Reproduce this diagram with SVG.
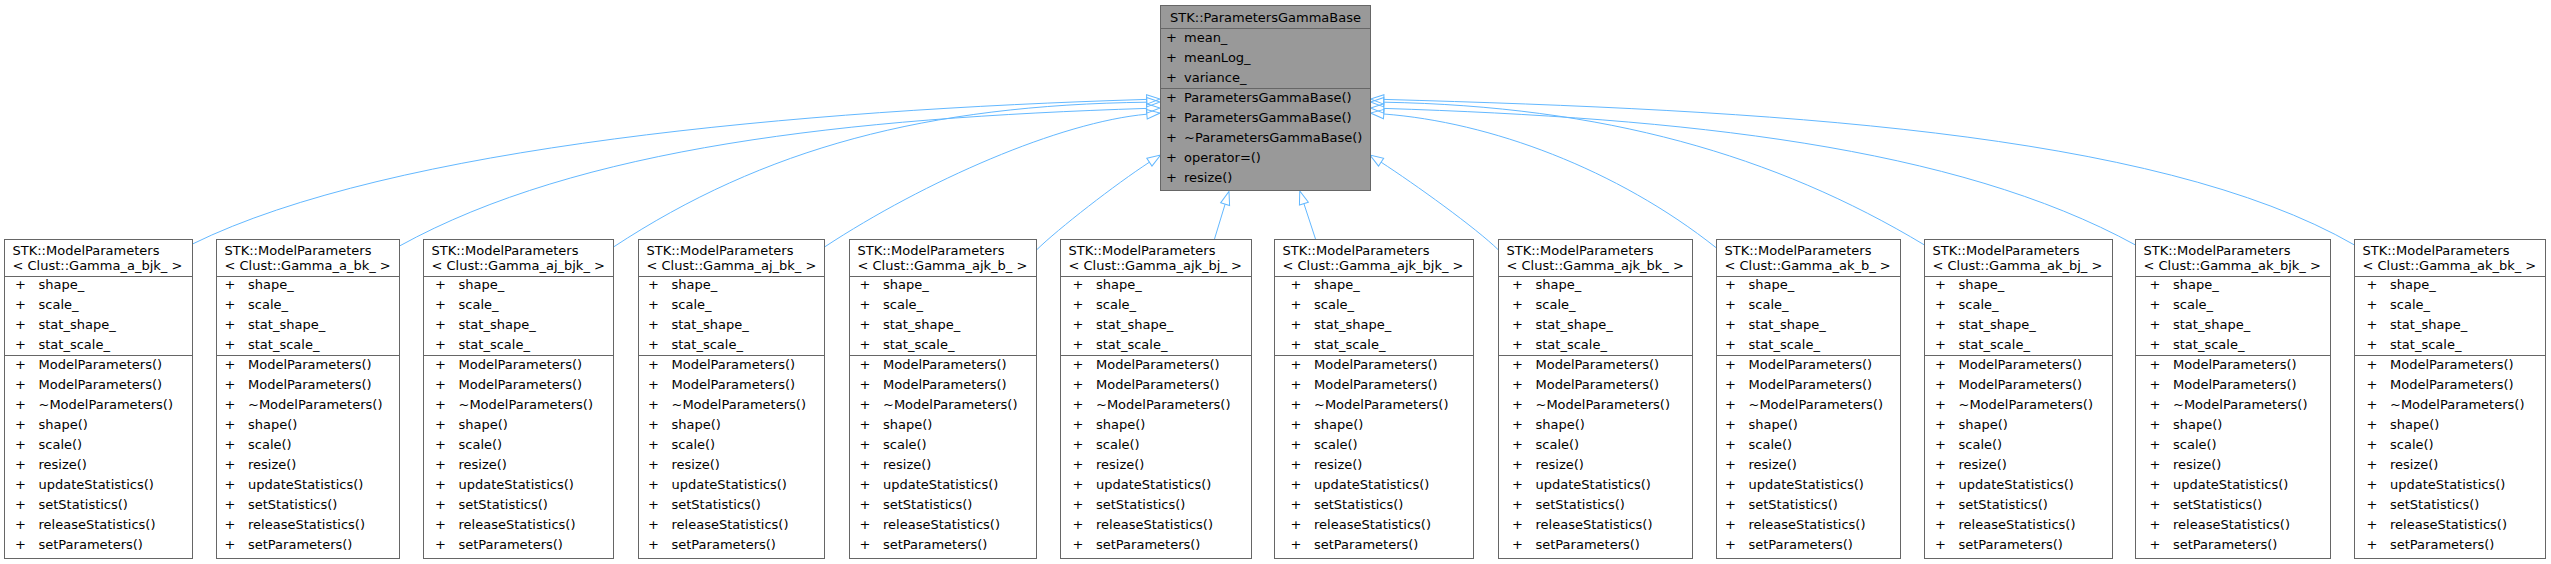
<svg xmlns="http://www.w3.org/2000/svg" width="2551" height="564" viewBox="0 0 2551 564">
<style>
.t{font-family:"DejaVu Sans","Liberation Sans",sans-serif;font-size:13px;fill:#000}
.p{text-anchor:middle}
.box{fill:#fff;stroke:#666;stroke-width:1}
.base{fill:#999;stroke:#666;stroke-width:1}
.sep{fill:none;stroke:#666;stroke-width:1}
.e{fill:none;stroke:#63b8ff;stroke-width:1;marker-end:url(#ah)}
</style>
<defs>
<marker id="ah" markerUnits="userSpaceOnUse" markerWidth="16" markerHeight="12" refX="0" refY="0" orient="auto" overflow="visible">
<path d="M0,-4.7L13.3,0L0,4.7Z" fill="none" stroke="#63b8ff" stroke-width="1"/>
</marker>
</defs>
<rect width="2551" height="564" fill="#fff"/>
<g id="connectors">
<path class="e" d="M192.5,244C392,146 800,110 1146.7,99.4"/>
<path class="e" d="M399.5,246C579,147 847,118 1146.7,108.4"/>
<path class="e" d="M613.5,247C764,148 927,105 1146.7,102.2"/>
<path class="e" d="M824.5,247C925,181 1060,122 1146.8,114.2"/>
<path class="e" d="M1036.5,250C1057.8,229 1115.9,184 1149.4,162.2"/>
<path class="e" d="M1214.5,239L1225.1,204.2"/>
<path class="e" d="M1315.5,239L1303.9,203.6"/>
<path class="e" d="M1498.5,250C1476,228 1414.6,184 1381.1,162.2"/>
<path class="e" d="M1716.5,248C1617,169 1490,122 1383.8,114"/>
<path class="e" d="M1924.5,245C1775,155 1603,106 1383.8,102.2"/>
<path class="e" d="M2135.5,245C1955,146 1683,118 1383.8,108.4"/>
<path class="e" d="M2354.5,245C2155,130 1760,110 1383.8,99.4"/>
</g>
<g id="ParametersGammaBase">
<rect class="base" x="1160.5" y="5.5" width="210" height="185"/>
<path class="sep" d="M1160.5,28.5H1370.5M1160.5,88.5H1370.5"/>
<text class="t p" x="1265.5" y="21.5">STK::ParametersGammaBase</text>
<text class="t p"><tspan x="1171.5" y="42">+</tspan><tspan x="1171.5" y="62">+</tspan><tspan x="1171.5" y="82">+</tspan><tspan x="1171.5" y="102">+</tspan><tspan x="1171.5" y="122">+</tspan><tspan x="1171.5" y="142">+</tspan><tspan x="1171.5" y="162">+</tspan><tspan x="1171.5" y="182">+</tspan></text>
<text class="t"><tspan x="1184" y="42">mean_</tspan><tspan x="1184" y="62">meanLog_</tspan><tspan x="1184" y="82">variance_</tspan><tspan x="1184" y="102">ParametersGammaBase()</tspan><tspan x="1184" y="122">ParametersGammaBase()</tspan><tspan x="1184" y="142">~ParametersGammaBase()</tspan><tspan x="1184" y="162">operator=()</tspan><tspan x="1184" y="182">resize()</tspan></text>
</g>
<g id="node1" transform="translate(4.5,0)">
<rect class="box" x="0" y="239.5" width="188" height="319"/>
<path class="sep" d="M0,276.5H188M0,355.5H188"/>
<text class="t"><tspan x="8" y="255">STK::ModelParameters</tspan><tspan x="8" y="269.5">&lt; Clust::Gamma_a_bjk_ &gt;</tspan></text>
<text class="t p"><tspan x="16" y="289">+</tspan><tspan x="16" y="309">+</tspan><tspan x="16" y="329">+</tspan><tspan x="16" y="349">+</tspan><tspan x="16" y="369">+</tspan><tspan x="16" y="389">+</tspan><tspan x="16" y="409">+</tspan><tspan x="16" y="429">+</tspan><tspan x="16" y="449">+</tspan><tspan x="16" y="469">+</tspan><tspan x="16" y="489">+</tspan><tspan x="16" y="509">+</tspan><tspan x="16" y="529">+</tspan><tspan x="16" y="549">+</tspan></text>
<text class="t"><tspan x="34" y="289">shape_</tspan><tspan x="34" y="309">scale_</tspan><tspan x="34" y="329">stat_shape_</tspan><tspan x="34" y="349">stat_scale_</tspan><tspan x="34" y="369">ModelParameters()</tspan><tspan x="34" y="389">ModelParameters()</tspan><tspan x="34" y="409">~ModelParameters()</tspan><tspan x="34" y="429">shape()</tspan><tspan x="34" y="449">scale()</tspan><tspan x="34" y="469">resize()</tspan><tspan x="34" y="489">updateStatistics()</tspan><tspan x="34" y="509">setStatistics()</tspan><tspan x="34" y="529">releaseStatistics()</tspan><tspan x="34" y="549">setParameters()</tspan></text>
</g>
<g id="node2" transform="translate(216.5,0)">
<rect class="box" x="0" y="239.5" width="183" height="319"/>
<path class="sep" d="M0,276.5H183M0,355.5H183"/>
<text class="t"><tspan x="8" y="255">STK::ModelParameters</tspan><tspan x="8" y="269.5">&lt; Clust::Gamma_a_bk_ &gt;</tspan></text>
<text class="t p"><tspan x="13.5" y="289">+</tspan><tspan x="13.5" y="309">+</tspan><tspan x="13.5" y="329">+</tspan><tspan x="13.5" y="349">+</tspan><tspan x="13.5" y="369">+</tspan><tspan x="13.5" y="389">+</tspan><tspan x="13.5" y="409">+</tspan><tspan x="13.5" y="429">+</tspan><tspan x="13.5" y="449">+</tspan><tspan x="13.5" y="469">+</tspan><tspan x="13.5" y="489">+</tspan><tspan x="13.5" y="509">+</tspan><tspan x="13.5" y="529">+</tspan><tspan x="13.5" y="549">+</tspan></text>
<text class="t"><tspan x="31.5" y="289">shape_</tspan><tspan x="31.5" y="309">scale_</tspan><tspan x="31.5" y="329">stat_shape_</tspan><tspan x="31.5" y="349">stat_scale_</tspan><tspan x="31.5" y="369">ModelParameters()</tspan><tspan x="31.5" y="389">ModelParameters()</tspan><tspan x="31.5" y="409">~ModelParameters()</tspan><tspan x="31.5" y="429">shape()</tspan><tspan x="31.5" y="449">scale()</tspan><tspan x="31.5" y="469">resize()</tspan><tspan x="31.5" y="489">updateStatistics()</tspan><tspan x="31.5" y="509">setStatistics()</tspan><tspan x="31.5" y="529">releaseStatistics()</tspan><tspan x="31.5" y="549">setParameters()</tspan></text>
</g>
<g id="node3" transform="translate(423.5,0)">
<rect class="box" x="0" y="239.5" width="190" height="319"/>
<path class="sep" d="M0,276.5H190M0,355.5H190"/>
<text class="t"><tspan x="8" y="255">STK::ModelParameters</tspan><tspan x="8" y="269.5">&lt; Clust::Gamma_aj_bjk_ &gt;</tspan></text>
<text class="t p"><tspan x="17" y="289">+</tspan><tspan x="17" y="309">+</tspan><tspan x="17" y="329">+</tspan><tspan x="17" y="349">+</tspan><tspan x="17" y="369">+</tspan><tspan x="17" y="389">+</tspan><tspan x="17" y="409">+</tspan><tspan x="17" y="429">+</tspan><tspan x="17" y="449">+</tspan><tspan x="17" y="469">+</tspan><tspan x="17" y="489">+</tspan><tspan x="17" y="509">+</tspan><tspan x="17" y="529">+</tspan><tspan x="17" y="549">+</tspan></text>
<text class="t"><tspan x="35" y="289">shape_</tspan><tspan x="35" y="309">scale_</tspan><tspan x="35" y="329">stat_shape_</tspan><tspan x="35" y="349">stat_scale_</tspan><tspan x="35" y="369">ModelParameters()</tspan><tspan x="35" y="389">ModelParameters()</tspan><tspan x="35" y="409">~ModelParameters()</tspan><tspan x="35" y="429">shape()</tspan><tspan x="35" y="449">scale()</tspan><tspan x="35" y="469">resize()</tspan><tspan x="35" y="489">updateStatistics()</tspan><tspan x="35" y="509">setStatistics()</tspan><tspan x="35" y="529">releaseStatistics()</tspan><tspan x="35" y="549">setParameters()</tspan></text>
</g>
<g id="node4" transform="translate(638.5,0)">
<rect class="box" x="0" y="239.5" width="186" height="319"/>
<path class="sep" d="M0,276.5H186M0,355.5H186"/>
<text class="t"><tspan x="8" y="255">STK::ModelParameters</tspan><tspan x="8" y="269.5">&lt; Clust::Gamma_aj_bk_ &gt;</tspan></text>
<text class="t p"><tspan x="15" y="289">+</tspan><tspan x="15" y="309">+</tspan><tspan x="15" y="329">+</tspan><tspan x="15" y="349">+</tspan><tspan x="15" y="369">+</tspan><tspan x="15" y="389">+</tspan><tspan x="15" y="409">+</tspan><tspan x="15" y="429">+</tspan><tspan x="15" y="449">+</tspan><tspan x="15" y="469">+</tspan><tspan x="15" y="489">+</tspan><tspan x="15" y="509">+</tspan><tspan x="15" y="529">+</tspan><tspan x="15" y="549">+</tspan></text>
<text class="t"><tspan x="33" y="289">shape_</tspan><tspan x="33" y="309">scale_</tspan><tspan x="33" y="329">stat_shape_</tspan><tspan x="33" y="349">stat_scale_</tspan><tspan x="33" y="369">ModelParameters()</tspan><tspan x="33" y="389">ModelParameters()</tspan><tspan x="33" y="409">~ModelParameters()</tspan><tspan x="33" y="429">shape()</tspan><tspan x="33" y="449">scale()</tspan><tspan x="33" y="469">resize()</tspan><tspan x="33" y="489">updateStatistics()</tspan><tspan x="33" y="509">setStatistics()</tspan><tspan x="33" y="529">releaseStatistics()</tspan><tspan x="33" y="549">setParameters()</tspan></text>
</g>
<g id="node5" transform="translate(849.5,0)">
<rect class="box" x="0" y="239.5" width="187" height="319"/>
<path class="sep" d="M0,276.5H187M0,355.5H187"/>
<text class="t"><tspan x="8" y="255">STK::ModelParameters</tspan><tspan x="8" y="269.5">&lt; Clust::Gamma_ajk_b_ &gt;</tspan></text>
<text class="t p"><tspan x="15.5" y="289">+</tspan><tspan x="15.5" y="309">+</tspan><tspan x="15.5" y="329">+</tspan><tspan x="15.5" y="349">+</tspan><tspan x="15.5" y="369">+</tspan><tspan x="15.5" y="389">+</tspan><tspan x="15.5" y="409">+</tspan><tspan x="15.5" y="429">+</tspan><tspan x="15.5" y="449">+</tspan><tspan x="15.5" y="469">+</tspan><tspan x="15.5" y="489">+</tspan><tspan x="15.5" y="509">+</tspan><tspan x="15.5" y="529">+</tspan><tspan x="15.5" y="549">+</tspan></text>
<text class="t"><tspan x="33.5" y="289">shape_</tspan><tspan x="33.5" y="309">scale_</tspan><tspan x="33.5" y="329">stat_shape_</tspan><tspan x="33.5" y="349">stat_scale_</tspan><tspan x="33.5" y="369">ModelParameters()</tspan><tspan x="33.5" y="389">ModelParameters()</tspan><tspan x="33.5" y="409">~ModelParameters()</tspan><tspan x="33.5" y="429">shape()</tspan><tspan x="33.5" y="449">scale()</tspan><tspan x="33.5" y="469">resize()</tspan><tspan x="33.5" y="489">updateStatistics()</tspan><tspan x="33.5" y="509">setStatistics()</tspan><tspan x="33.5" y="529">releaseStatistics()</tspan><tspan x="33.5" y="549">setParameters()</tspan></text>
</g>
<g id="node6" transform="translate(1060.5,0)">
<rect class="box" x="0" y="239.5" width="191" height="319"/>
<path class="sep" d="M0,276.5H191M0,355.5H191"/>
<text class="t"><tspan x="8" y="255">STK::ModelParameters</tspan><tspan x="8" y="269.5">&lt; Clust::Gamma_ajk_bj_ &gt;</tspan></text>
<text class="t p"><tspan x="17.5" y="289">+</tspan><tspan x="17.5" y="309">+</tspan><tspan x="17.5" y="329">+</tspan><tspan x="17.5" y="349">+</tspan><tspan x="17.5" y="369">+</tspan><tspan x="17.5" y="389">+</tspan><tspan x="17.5" y="409">+</tspan><tspan x="17.5" y="429">+</tspan><tspan x="17.5" y="449">+</tspan><tspan x="17.5" y="469">+</tspan><tspan x="17.5" y="489">+</tspan><tspan x="17.5" y="509">+</tspan><tspan x="17.5" y="529">+</tspan><tspan x="17.5" y="549">+</tspan></text>
<text class="t"><tspan x="35.5" y="289">shape_</tspan><tspan x="35.5" y="309">scale_</tspan><tspan x="35.5" y="329">stat_shape_</tspan><tspan x="35.5" y="349">stat_scale_</tspan><tspan x="35.5" y="369">ModelParameters()</tspan><tspan x="35.5" y="389">ModelParameters()</tspan><tspan x="35.5" y="409">~ModelParameters()</tspan><tspan x="35.5" y="429">shape()</tspan><tspan x="35.5" y="449">scale()</tspan><tspan x="35.5" y="469">resize()</tspan><tspan x="35.5" y="489">updateStatistics()</tspan><tspan x="35.5" y="509">setStatistics()</tspan><tspan x="35.5" y="529">releaseStatistics()</tspan><tspan x="35.5" y="549">setParameters()</tspan></text>
</g>
<g id="node7" transform="translate(1274.5,0)">
<rect class="box" x="0" y="239.5" width="199" height="319"/>
<path class="sep" d="M0,276.5H199M0,355.5H199"/>
<text class="t"><tspan x="8" y="255">STK::ModelParameters</tspan><tspan x="8" y="269.5">&lt; Clust::Gamma_ajk_bjk_ &gt;</tspan></text>
<text class="t p"><tspan x="21.5" y="289">+</tspan><tspan x="21.5" y="309">+</tspan><tspan x="21.5" y="329">+</tspan><tspan x="21.5" y="349">+</tspan><tspan x="21.5" y="369">+</tspan><tspan x="21.5" y="389">+</tspan><tspan x="21.5" y="409">+</tspan><tspan x="21.5" y="429">+</tspan><tspan x="21.5" y="449">+</tspan><tspan x="21.5" y="469">+</tspan><tspan x="21.5" y="489">+</tspan><tspan x="21.5" y="509">+</tspan><tspan x="21.5" y="529">+</tspan><tspan x="21.5" y="549">+</tspan></text>
<text class="t"><tspan x="39.5" y="289">shape_</tspan><tspan x="39.5" y="309">scale_</tspan><tspan x="39.5" y="329">stat_shape_</tspan><tspan x="39.5" y="349">stat_scale_</tspan><tspan x="39.5" y="369">ModelParameters()</tspan><tspan x="39.5" y="389">ModelParameters()</tspan><tspan x="39.5" y="409">~ModelParameters()</tspan><tspan x="39.5" y="429">shape()</tspan><tspan x="39.5" y="449">scale()</tspan><tspan x="39.5" y="469">resize()</tspan><tspan x="39.5" y="489">updateStatistics()</tspan><tspan x="39.5" y="509">setStatistics()</tspan><tspan x="39.5" y="529">releaseStatistics()</tspan><tspan x="39.5" y="549">setParameters()</tspan></text>
</g>
<g id="node8" transform="translate(1498.5,0)">
<rect class="box" x="0" y="239.5" width="194" height="319"/>
<path class="sep" d="M0,276.5H194M0,355.5H194"/>
<text class="t"><tspan x="8" y="255">STK::ModelParameters</tspan><tspan x="8" y="269.5">&lt; Clust::Gamma_ajk_bk_ &gt;</tspan></text>
<text class="t p"><tspan x="19" y="289">+</tspan><tspan x="19" y="309">+</tspan><tspan x="19" y="329">+</tspan><tspan x="19" y="349">+</tspan><tspan x="19" y="369">+</tspan><tspan x="19" y="389">+</tspan><tspan x="19" y="409">+</tspan><tspan x="19" y="429">+</tspan><tspan x="19" y="449">+</tspan><tspan x="19" y="469">+</tspan><tspan x="19" y="489">+</tspan><tspan x="19" y="509">+</tspan><tspan x="19" y="529">+</tspan><tspan x="19" y="549">+</tspan></text>
<text class="t"><tspan x="37" y="289">shape_</tspan><tspan x="37" y="309">scale_</tspan><tspan x="37" y="329">stat_shape_</tspan><tspan x="37" y="349">stat_scale_</tspan><tspan x="37" y="369">ModelParameters()</tspan><tspan x="37" y="389">ModelParameters()</tspan><tspan x="37" y="409">~ModelParameters()</tspan><tspan x="37" y="429">shape()</tspan><tspan x="37" y="449">scale()</tspan><tspan x="37" y="469">resize()</tspan><tspan x="37" y="489">updateStatistics()</tspan><tspan x="37" y="509">setStatistics()</tspan><tspan x="37" y="529">releaseStatistics()</tspan><tspan x="37" y="549">setParameters()</tspan></text>
</g>
<g id="node9" transform="translate(1716.5,0)">
<rect class="box" x="0" y="239.5" width="184" height="319"/>
<path class="sep" d="M0,276.5H184M0,355.5H184"/>
<text class="t"><tspan x="8" y="255">STK::ModelParameters</tspan><tspan x="8" y="269.5">&lt; Clust::Gamma_ak_b_ &gt;</tspan></text>
<text class="t p"><tspan x="14" y="289">+</tspan><tspan x="14" y="309">+</tspan><tspan x="14" y="329">+</tspan><tspan x="14" y="349">+</tspan><tspan x="14" y="369">+</tspan><tspan x="14" y="389">+</tspan><tspan x="14" y="409">+</tspan><tspan x="14" y="429">+</tspan><tspan x="14" y="449">+</tspan><tspan x="14" y="469">+</tspan><tspan x="14" y="489">+</tspan><tspan x="14" y="509">+</tspan><tspan x="14" y="529">+</tspan><tspan x="14" y="549">+</tspan></text>
<text class="t"><tspan x="32" y="289">shape_</tspan><tspan x="32" y="309">scale_</tspan><tspan x="32" y="329">stat_shape_</tspan><tspan x="32" y="349">stat_scale_</tspan><tspan x="32" y="369">ModelParameters()</tspan><tspan x="32" y="389">ModelParameters()</tspan><tspan x="32" y="409">~ModelParameters()</tspan><tspan x="32" y="429">shape()</tspan><tspan x="32" y="449">scale()</tspan><tspan x="32" y="469">resize()</tspan><tspan x="32" y="489">updateStatistics()</tspan><tspan x="32" y="509">setStatistics()</tspan><tspan x="32" y="529">releaseStatistics()</tspan><tspan x="32" y="549">setParameters()</tspan></text>
</g>
<g id="node10" transform="translate(1924.5,0)">
<rect class="box" x="0" y="239.5" width="188" height="319"/>
<path class="sep" d="M0,276.5H188M0,355.5H188"/>
<text class="t"><tspan x="8" y="255">STK::ModelParameters</tspan><tspan x="8" y="269.5">&lt; Clust::Gamma_ak_bj_ &gt;</tspan></text>
<text class="t p"><tspan x="16" y="289">+</tspan><tspan x="16" y="309">+</tspan><tspan x="16" y="329">+</tspan><tspan x="16" y="349">+</tspan><tspan x="16" y="369">+</tspan><tspan x="16" y="389">+</tspan><tspan x="16" y="409">+</tspan><tspan x="16" y="429">+</tspan><tspan x="16" y="449">+</tspan><tspan x="16" y="469">+</tspan><tspan x="16" y="489">+</tspan><tspan x="16" y="509">+</tspan><tspan x="16" y="529">+</tspan><tspan x="16" y="549">+</tspan></text>
<text class="t"><tspan x="34" y="289">shape_</tspan><tspan x="34" y="309">scale_</tspan><tspan x="34" y="329">stat_shape_</tspan><tspan x="34" y="349">stat_scale_</tspan><tspan x="34" y="369">ModelParameters()</tspan><tspan x="34" y="389">ModelParameters()</tspan><tspan x="34" y="409">~ModelParameters()</tspan><tspan x="34" y="429">shape()</tspan><tspan x="34" y="449">scale()</tspan><tspan x="34" y="469">resize()</tspan><tspan x="34" y="489">updateStatistics()</tspan><tspan x="34" y="509">setStatistics()</tspan><tspan x="34" y="529">releaseStatistics()</tspan><tspan x="34" y="549">setParameters()</tspan></text>
</g>
<g id="node11" transform="translate(2135.5,0)">
<rect class="box" x="0" y="239.5" width="195" height="319"/>
<path class="sep" d="M0,276.5H195M0,355.5H195"/>
<text class="t"><tspan x="8" y="255">STK::ModelParameters</tspan><tspan x="8" y="269.5">&lt; Clust::Gamma_ak_bjk_ &gt;</tspan></text>
<text class="t p"><tspan x="19.5" y="289">+</tspan><tspan x="19.5" y="309">+</tspan><tspan x="19.5" y="329">+</tspan><tspan x="19.5" y="349">+</tspan><tspan x="19.5" y="369">+</tspan><tspan x="19.5" y="389">+</tspan><tspan x="19.5" y="409">+</tspan><tspan x="19.5" y="429">+</tspan><tspan x="19.5" y="449">+</tspan><tspan x="19.5" y="469">+</tspan><tspan x="19.5" y="489">+</tspan><tspan x="19.5" y="509">+</tspan><tspan x="19.5" y="529">+</tspan><tspan x="19.5" y="549">+</tspan></text>
<text class="t"><tspan x="37.5" y="289">shape_</tspan><tspan x="37.5" y="309">scale_</tspan><tspan x="37.5" y="329">stat_shape_</tspan><tspan x="37.5" y="349">stat_scale_</tspan><tspan x="37.5" y="369">ModelParameters()</tspan><tspan x="37.5" y="389">ModelParameters()</tspan><tspan x="37.5" y="409">~ModelParameters()</tspan><tspan x="37.5" y="429">shape()</tspan><tspan x="37.5" y="449">scale()</tspan><tspan x="37.5" y="469">resize()</tspan><tspan x="37.5" y="489">updateStatistics()</tspan><tspan x="37.5" y="509">setStatistics()</tspan><tspan x="37.5" y="529">releaseStatistics()</tspan><tspan x="37.5" y="549">setParameters()</tspan></text>
</g>
<g id="node12" transform="translate(2354.5,0)">
<rect class="box" x="0" y="239.5" width="191" height="319"/>
<path class="sep" d="M0,276.5H191M0,355.5H191"/>
<text class="t"><tspan x="8" y="255">STK::ModelParameters</tspan><tspan x="8" y="269.5">&lt; Clust::Gamma_ak_bk_ &gt;</tspan></text>
<text class="t p"><tspan x="17.5" y="289">+</tspan><tspan x="17.5" y="309">+</tspan><tspan x="17.5" y="329">+</tspan><tspan x="17.5" y="349">+</tspan><tspan x="17.5" y="369">+</tspan><tspan x="17.5" y="389">+</tspan><tspan x="17.5" y="409">+</tspan><tspan x="17.5" y="429">+</tspan><tspan x="17.5" y="449">+</tspan><tspan x="17.5" y="469">+</tspan><tspan x="17.5" y="489">+</tspan><tspan x="17.5" y="509">+</tspan><tspan x="17.5" y="529">+</tspan><tspan x="17.5" y="549">+</tspan></text>
<text class="t"><tspan x="35.5" y="289">shape_</tspan><tspan x="35.5" y="309">scale_</tspan><tspan x="35.5" y="329">stat_shape_</tspan><tspan x="35.5" y="349">stat_scale_</tspan><tspan x="35.5" y="369">ModelParameters()</tspan><tspan x="35.5" y="389">ModelParameters()</tspan><tspan x="35.5" y="409">~ModelParameters()</tspan><tspan x="35.5" y="429">shape()</tspan><tspan x="35.5" y="449">scale()</tspan><tspan x="35.5" y="469">resize()</tspan><tspan x="35.5" y="489">updateStatistics()</tspan><tspan x="35.5" y="509">setStatistics()</tspan><tspan x="35.5" y="529">releaseStatistics()</tspan><tspan x="35.5" y="549">setParameters()</tspan></text>
</g>
</svg>
